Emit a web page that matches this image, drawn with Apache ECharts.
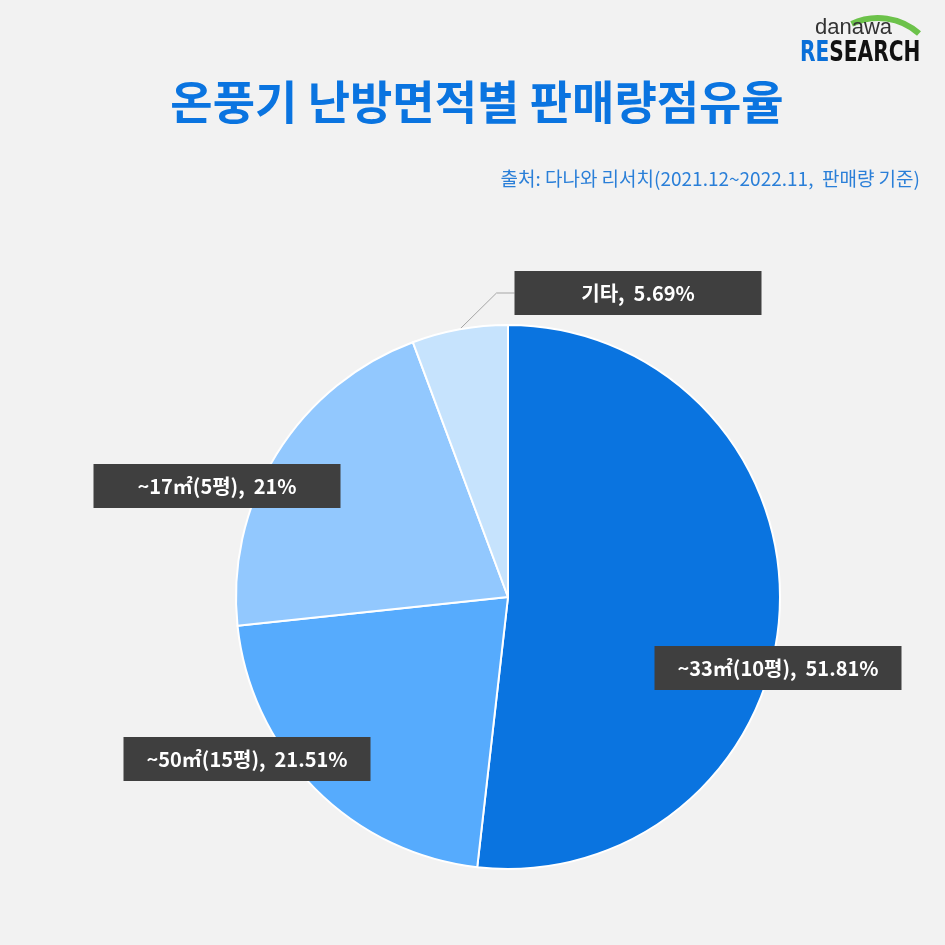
<!DOCTYPE html>
<html><head><meta charset="utf-8">
<script src="https://cdn.jsdelivr.net/npm/echarts@6/dist/echarts.min.js"></script>
<style>html,body{margin:0;padding:0;background:#f2f2f2}#c{width:945px;height:945px}</style>
</head><body><div id="c"></div>
<script>
const categories = ['~33㎡(10평)', '~50㎡(15평)', '~17㎡(5평)', '기타'];
const values = [51.81, 21.51, 21, 5.69];
const colors = ['#0a74e0', '#56abfd', '#92c8fe', '#c6e3fd'];
const labelSpots = [[778, 668], [247, 759], [217, 486], [638, 293]];

const chart = echarts.init(document.getElementById('c'));
const font = '"Noto Sans CJK KR", "Noto Sans", sans-serif';
chart.setOption({
  backgroundColor: '#f2f2f2',
  title: [{
    text: '온풍기 난방면적별 판매량점유율', left: 472, top: 74, textAlign: 'center',
    textStyle: { color: '#0a74e0', fontSize: 46, fontWeight: 'bold', fontFamily: font }
  }, {
    text: '출처: 다나와 리서치(2021.12~2022.11,  판매량 기준)', right: 20, top: 164,
    textStyle: { color: '#2a7fd8', fontSize: 19, fontWeight: 'normal', fontFamily: font }
  }],
  graphic: [
    { type: 'arc', shape: { cx: 878, cy: 80, r: 62, startAngle: -Math.PI*0.64, endAngle: -Math.PI*0.27 }, style: { stroke: '#6cc24a', lineWidth: 6, fill: null } },
    { type: 'text', left: 815, top: 17, style: { text: 'danawa', fill: '#333', font: '22px "Liberation Sans", sans-serif' } },
    { type: 'text', x: 800, y: 40, scaleX: 0.8, style: { text: '{a|RE}{b|SEARCH}', rich: {
      a: { fill: '#0a6fd8', font: 'bold 28px "DejaVu Sans Condensed", sans-serif' },
      b: { fill: '#111', font: 'bold 28px "DejaVu Sans Condensed", sans-serif' } } } }
  ],
  series: [{
    type: 'pie',
    center: [508, 597], radius: 272,
    startAngle: 90, clockwise: true,
    color: colors,
    itemStyle: { borderColor: '#ffffff', borderWidth: 2 },
    data: categories.map((n, i) => ({
      name: n, value: values[i],
      labelLine: { show: i === 3 }
    })),
    label: {
      show: true, position: 'outside',
      formatter: p => p.name + ',  ' + p.value + '%',
      color: '#ffffff', fontSize: 20, fontWeight: 'bold', fontFamily: font,
      backgroundColor: '#3f3f3f', width: 247, height: 44, lineHeight: 44, align: 'center'
    },
    labelLine: { show: true, length: 40, length2: 18, lineStyle: { color: '#a6a6a6', width: 1 } },
    labelLayout: p => ({ x: labelSpots[p.dataIndex][0], y: labelSpots[p.dataIndex][1], align: 'center', verticalAlign: 'middle' })
  }]
});
</script></body></html>
